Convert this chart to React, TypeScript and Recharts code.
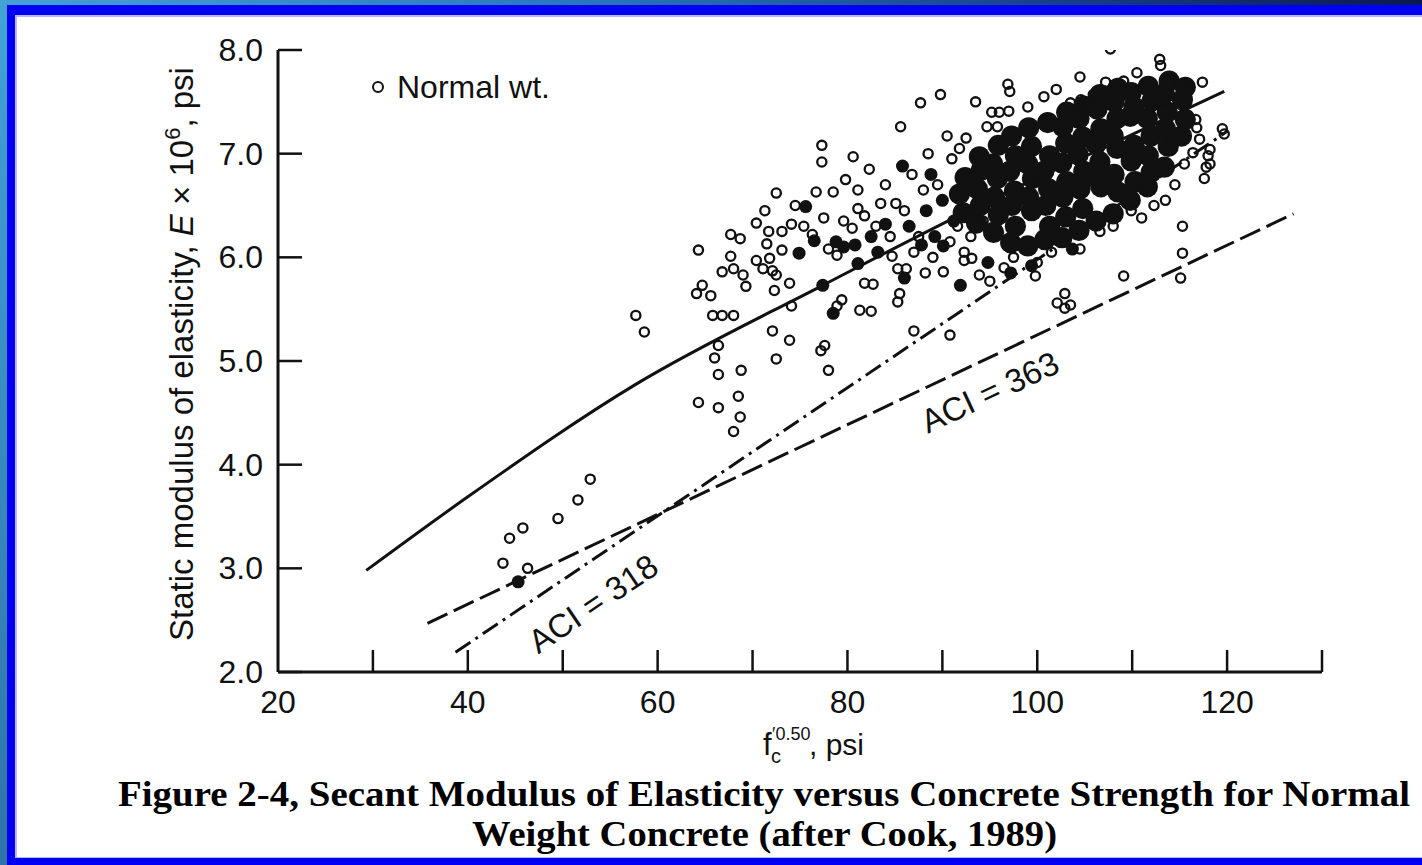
import { ScatterChart, Scatter, XAxis, YAxis, ReferenceDot, Label } from "recharts";

const SANS = '"Liberation Sans", Arial, Helvetica, sans-serif';
const SERIF = '"Liberation Serif", "Times New Roman", serif';
const INK = "#111";

const xTicks = [20, 30, 40, 50, 60, 70, 80, 90, 100, 110, 120, 130];
const xTickLabels = [20, 40, 60, 80, 100, 120];
const yTicks = [2, 3, 4, 5, 6, 7, 8];

// open circles as (f'c^0.5, E x 10^6)
const openPoints: [number, number][] = [
  [43.7, 3.05], [44.4, 3.29], [45.8, 3.39], [46.3, 3.0], [49.5, 3.48], [51.6, 3.66], [52.9, 3.86],
  [57.7, 5.44], [58.6, 5.28],
  [64.3, 6.07], [64.7, 5.73], [64.1, 5.65], [65.6, 5.63], [65.8, 5.44], [66.8, 5.44], [68.0, 5.44],
  [67.7, 6.22], [67.7, 6.01], [66.8, 5.86], [68.0, 5.89], [69.0, 5.83], [69.3, 5.72], [68.7, 6.18],
  [70.4, 6.33], [71.3, 6.45], [72.5, 6.62], [71.7, 6.25], [73.1, 6.25], [74.1, 6.32], [75.4, 6.30],
  [71.5, 6.13], [73.1, 6.07], [71.8, 5.99], [70.4, 5.97], [71.1, 5.89], [72.1, 5.87], [72.5, 5.83], [73.9, 5.75],
  [72.3, 5.68], [74.1, 5.53], [72.1, 5.29], [73.9, 5.20],
  [66.4, 5.15], [66.0, 5.03], [66.4, 4.87], [68.8, 4.91], [72.5, 5.02],
  [64.3, 4.6], [66.4, 4.55], [68.5, 4.66], [68.7, 4.46], [68.0, 4.32],
  [77.6, 5.15], [77.2, 5.10], [78.0, 4.91],
  [76.7, 6.63], [78.5, 6.63], [81.1, 6.65], [77.3, 7.08], [77.3, 6.92], [80.6, 6.97],
  [81.1, 6.47], [81.8, 6.40], [83.5, 6.52], [85.1, 6.52],
  [78.0, 6.08], [78.9, 6.02], [81.8, 5.75], [82.7, 5.74], [81.3, 5.49], [82.5, 5.48], [79.4, 5.59], [78.9, 5.53],
  [85.3, 5.89], [86.2, 5.89], [85.5, 5.65], [85.3, 5.57], [84.7, 6.01], [87.0, 6.05], [90.1, 5.86],
  [92.3, 6.05], [93.1, 5.99], [92.3, 5.97], [93.9, 5.83], [95.0, 5.77], [98.6, 6.08], [94.3, 6.35],
  [87.0, 5.29], [90.8, 5.25],
  [85.6, 7.26], [90.5, 7.17], [87.7, 7.49], [89.8, 7.57], [93.5, 7.50], [96.9, 7.67], [97.1, 7.60],
  [95.2, 7.40], [96.0, 7.40], [97.0, 7.41], [94.7, 7.26], [95.8, 7.26],
  [100.7, 7.55], [103.5, 7.49], [104.6, 7.52], [105.9, 7.57], [104.6, 7.40],
  [104.5, 7.74], [107.2, 7.69], [109.1, 7.70], [107.7, 8.01], [112.9, 7.91], [117.4, 7.69],
  [116.0, 7.65], [116.7, 7.33], [116.8, 7.25], [117.1, 7.14], [116.4, 7.01], [117.8, 6.87], [117.6, 6.76],
  [119.5, 7.24], [119.7, 7.19], [118.2, 7.04], [118.0, 6.98], [118.2, 6.90],
  [112.3, 6.50], [115.3, 6.30], [115.3, 6.04], [115.1, 5.80], [109.1, 5.82],
  [102.9, 5.65], [102.1, 5.56], [103.5, 5.54], [102.9, 5.51],
  [106.6, 6.25], [109.9, 6.45],
  [79.6, 6.35], [80.5, 6.28], [77.5, 6.38], [76.3, 6.22], [74.5, 6.5], [83.0, 6.3], [84.5, 6.2],
  [86.0, 6.45], [88.0, 6.65], [89.5, 6.7], [91.0, 6.95], [92.5, 7.15], [91.8, 7.05], [88.5, 7.0],
  [86.8, 6.8], [84.0, 6.7], [82.3, 6.85], [79.8, 6.75],
  [100.0, 5.95], [101.5, 6.05], [104.5, 6.08], [108.0, 6.3], [111.0, 6.38], [113.5, 6.55],
  [114.5, 6.7], [115.5, 6.9], [113.0, 7.85], [110.5, 7.78], [102.0, 7.62], [99.0, 7.45],
  [96.5, 5.9], [97.5, 6.0], [99.8, 5.82], [89.0, 6.0], [88.2, 5.85], [87.5, 6.2], [90.8, 6.15],
  [91.6, 6.3], [93.0, 6.2],
];

// larger filled dots
const filledPoints: [number, number][] = [
  [45.3, 2.87],
  [75.6, 6.49], [74.9, 6.04], [77.4, 5.73], [78.5, 5.46], [81.1, 5.94], [79.6, 6.10], [78.8, 6.15],
  [85.8, 6.88], [86.0, 5.80], [91.9, 5.73], [90.1, 6.11], [88.8, 6.80], [99.4, 5.92], [103.7, 6.08],
  [113.8, 7.69], [113.3, 7.41],
  [82.5, 6.2], [84.0, 6.32], [86.5, 6.3], [88.3, 6.45], [90.0, 6.55], [91.2, 6.35], [89.2, 6.2],
  [80.8, 6.12], [83.2, 6.05], [87.8, 6.12], [76.5, 6.16], [94.8, 5.95], [97.2, 5.85],
];

// the saturated cluster around f'c^0.5 = 92-116
const densePoints: [number, number][] = [
  [92.2, 6.43], [91.8, 6.61], [92.4, 6.77],
  [93.6, 6.33], [94.0, 6.5], [93.7, 6.66], [94.1, 6.84], [93.9, 6.97],
  [95.4, 6.24], [95.9, 6.41], [95.5, 6.58], [95.8, 6.76], [95.3, 6.9], [95.9, 7.08],
  [97.2, 6.14], [97.7, 6.3], [97.3, 6.5], [97.6, 6.64], [97.1, 6.83], [97.7, 6.98], [97.3, 7.17],
  [99.0, 6.11], [99.4, 6.45], [99.1, 6.58], [99.5, 6.76], [99.0, 6.9], [99.4, 7.07], [99.1, 7.25],
  [100.8, 6.17], [101.3, 6.3], [100.9, 6.5], [101.2, 6.66], [100.7, 6.83], [101.3, 6.98], [101.1, 7.3],
  [102.6, 6.19], [103.0, 6.39], [102.7, 6.58], [103.1, 6.73], [102.6, 6.91], [103.0, 7.1], [102.7, 7.26], [103.1, 7.4],
  [104.4, 6.26], [104.8, 6.47], [104.5, 6.66], [104.9, 6.83], [104.3, 6.99], [104.8, 7.16], [104.4, 7.34], [104.9, 7.46],
  [106.2, 6.35], [106.7, 6.68], [106.3, 6.76], [106.6, 6.92], [106.2, 7.09], [106.7, 7.24], [106.3, 7.43], [106.6, 7.57],
  [108.0, 6.42], [108.5, 6.63], [108.1, 6.8], [108.4, 7.05], [108.0, 7.17], [108.4, 7.34], [108.1, 7.5], [108.5, 7.63],
  [109.8, 6.55], [110.3, 6.73], [109.9, 6.93], [110.2, 7.08], [109.8, 7.36], [110.2, 7.45], [109.9, 7.59],
  [111.6, 6.68], [112.0, 6.82], [111.7, 6.98], [112.0, 7.17], [111.6, 7.34], [112.1, 7.51], [111.7, 7.65],
  [113.4, 6.87], [113.8, 7.07], [113.5, 7.24], [113.7, 7.4], [113.4, 7.58], [113.9, 7.7],
  [115.2, 7.17], [115.6, 7.33], [115.3, 7.52], [115.6, 7.64],
];

const bestFit: [number, number][] = [[29.3, 2.98], [40, 3.69], [57.6, 4.77], [77.4, 5.73], [95, 6.55], [108, 7.1], [119.7, 7.6]];
const aci318: [number, number][] = [[38.7, 2.19], [120.1, 7.22]];
const aci363: [number, number][] = [[35.75, 2.47], [127, 6.42]];

const lineLabels = [
  { text: "ACI = 318", x: 53.2, y: 2.66, angle: -34 },
  { text: "ACI = 363", x: 95.0, y: 4.7, angle: -25 },
];

const toXY = (pts: [number, number][]) => pts.map(([x, y]) => ({ x, y }));

const OpenDot = (p: any) => <circle cx={p.cx} cy={p.cy} r={4.6} fill="none" stroke={INK} strokeWidth={2.3} />;
const FilledDot = (p: any) => <circle cx={p.cx} cy={p.cy} r={6.5} fill={INK} />;
const DenseDot = (p: any) => <circle cx={p.cx} cy={p.cy} r={10.6} fill={INK} />;
const NoDot = () => <g />;

function XTick(props: any) {
  const { x, y, payload } = props;
  const v = payload.value;
  return (
    <g>
      {v > 20 && <line x1={x} y1={y} x2={x} y2={y - 22} stroke={INK} strokeWidth={2.5} />}
      {xTickLabels.includes(v) && (
        <text x={x} y={y + 41} textAnchor="middle" fontSize={32} fontFamily={SANS} fill={INK}>
          {v}
        </text>
      )}
    </g>
  );
}

function YTick(props: any) {
  const { x, y, payload } = props;
  return (
    <g>
      <line x1={x} y1={y} x2={x + 24} y2={y} stroke={INK} strokeWidth={2.5} />
      <text x={x - 15} y={y + 11} textAnchor="end" fontSize={32} fontFamily={SANS} fill={INK}>
        {Number(payload.value).toFixed(1)}
      </text>
    </g>
  );
}

function XTitle({ viewBox }: any) {
  const fx = viewBox.x + 485;
  const by = viewBox.y + 83;
  return (
    <g fontFamily={SANS} fill={INK}>
      <text x={fx} y={by} fontSize={31}>f</text>
      <text x={fx + 8} y={by + 8} fontSize={20}>c</text>
      <text x={fx + 9} y={by - 15} fontSize={18}>′0.50</text>
      <text x={fx + 46} y={by} fontSize={30}>, psi</text>
    </g>
  );
}

function YTitle({ viewBox }: any) {
  const bx = viewBox.x - 84;
  const cy = viewBox.y + viewBox.height / 2 - 7;
  return (
    <text x={bx} y={cy} transform={`rotate(-90 ${bx} ${cy})`} textAnchor="middle" fontSize={33} fontFamily={SANS} fill={INK}>
      Static modulus of elasticity, <tspan fontStyle="italic">E</tspan> × 10
      <tspan dy={-13} fontSize={22}>6</tspan>
      <tspan dy={13}>, psi</tspan>
    </text>
  );
}

const RotatedLabel = (text: string, angle: number) => (p: any) => (
  <text
    x={p.cx}
    y={p.cy}
    transform={`rotate(${angle} ${p.cx} ${p.cy})`}
    textAnchor="middle"
    dominantBaseline="central"
    fontSize={33}
    fontFamily={SANS}
    fill={INK}
  >
    {text}
  </text>
);

export default function App() {
  return (
    <div
      style={{
        position: "absolute",
        left: 0,
        top: 0,
        width: 1422,
        height: 865,
        overflow: "hidden",
        background:
          "linear-gradient(180deg, rgba(0,0,0,0) 0%, rgba(10,30,80,0.35) 100%), linear-gradient(90deg, #42a2d6 0%, #2a78bc 40%, #163f8a 75%, #0a1850 100%)",
      }}
    >
      <div style={{ position: "absolute", left: 7, top: 5, right: 0, bottom: 0, background: "#0000f2" }} />
      <div style={{ position: "absolute", left: 15, top: 15, right: 0, bottom: 7, background: "#b8b8ff" }} />
      <div style={{ position: "absolute", left: 17, top: 17, right: 0, bottom: 8, background: "#fff" }} />
      <div style={{ position: "absolute", left: 0, top: 0 }}>
        <ScatterChart width={1422} height={865} margin={{ top: 50, right: 100, bottom: 192, left: 277 }}>
          <XAxis
            type="number"
            dataKey="x"
            domain={[20, 130]}
            ticks={xTicks}
            interval={0}
            allowDataOverflow
            height={1}
            tickSize={0}
            tickMargin={0}
            tickLine={false}
            tick={<XTick />}
            axisLine={{ stroke: INK, strokeWidth: 3 }}
          >
            <Label content={<XTitle />} />
          </XAxis>
          <YAxis
            type="number"
            dataKey="y"
            domain={[2, 8]}
            ticks={yTicks}
            interval={0}
            allowDataOverflow
            width={1}
            tickSize={0}
            tickMargin={0}
            tickLine={false}
            tick={<YTick />}
            axisLine={{ stroke: INK, strokeWidth: 3 }}
          >
            <Label content={<YTitle />} />
          </YAxis>
          <Scatter data={toXY(densePoints)} shape={DenseDot} isAnimationActive={false} />
          <Scatter data={toXY(filledPoints)} shape={FilledDot} isAnimationActive={false} />
          <Scatter name="Normal wt." data={toXY(openPoints)} shape={OpenDot} isAnimationActive={false} />
          <Scatter
            data={toXY(bestFit)}
            line={{ stroke: INK, strokeWidth: 3 }}
            lineJointType="monotoneX"
            shape={NoDot}
            isAnimationActive={false}
          />
          <Scatter
            data={toXY(aci318)}
            line={{ stroke: INK, strokeWidth: 3, strokeDasharray: "18 6 3 6" }}
            shape={NoDot}
            isAnimationActive={false}
          />
          <Scatter
            data={toXY(aci363)}
            line={{ stroke: INK, strokeWidth: 3, strokeDasharray: "22 7" }}
            shape={NoDot}
            isAnimationActive={false}
          />
          {lineLabels.map((l) => (
            <ReferenceDot key={l.text} x={l.x} y={l.y} r={0} shape={RotatedLabel(l.text, l.angle)} />
          ))}
        </ScatterChart>
      </div>
      <svg width={1422} height={865} style={{ position: "absolute", left: 0, top: 0, pointerEvents: "none" }}>
        <circle cx={378} cy={87} r={5} fill="#fff" stroke={INK} strokeWidth={2} />
        <text x={397} y={98} fontSize={32} fontFamily={SANS} fill={INK}>
          Normal wt.
        </text>
        <text
          x={118}
          y={806}
          textLength={1292}
          lengthAdjust="spacingAndGlyphs"
          fontSize={35}
          fontWeight="bold"
          fontFamily={SERIF}
          fill="#000"
        >
          Figure 2-4,  Secant Modulus of Elasticity versus Concrete Strength for Normal
        </text>
        <text
          x={472}
          y={846}
          textLength={585}
          lengthAdjust="spacingAndGlyphs"
          fontSize={35}
          fontWeight="bold"
          fontFamily={SERIF}
          fill="#000"
        >
          Weight Concrete (after Cook, 1989)
        </text>
      </svg>
    </div>
  );
}
